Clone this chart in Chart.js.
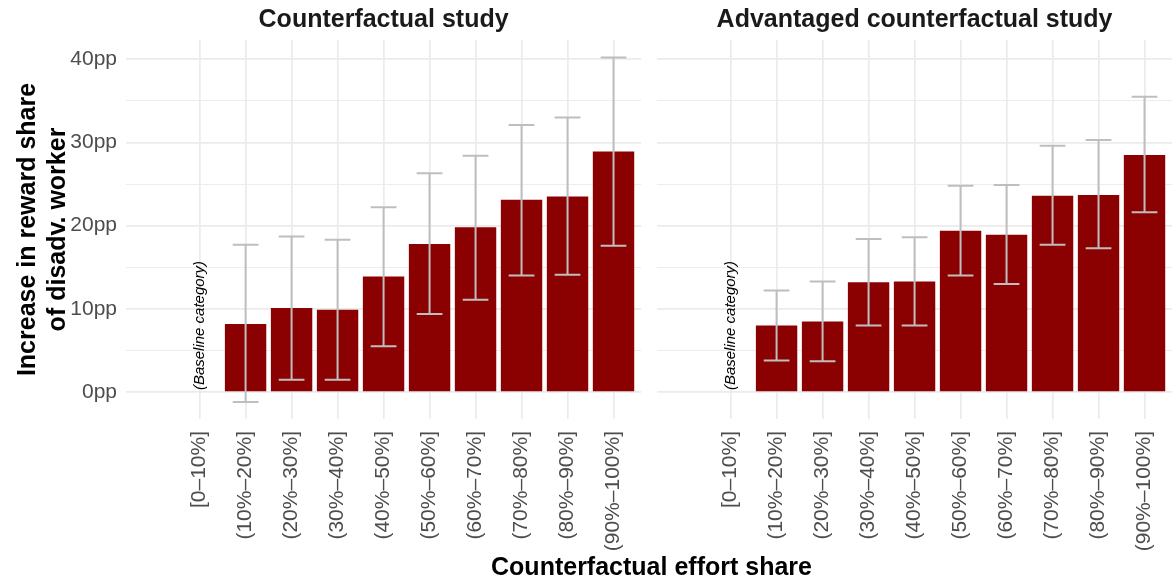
<!DOCTYPE html>
<html>
<head>
<meta charset="utf-8">
<script src="https://cdn.jsdelivr.net/npm/chart.js@4.4.1/dist/chart.umd.min.js"></script>
<style>
  html, body { margin: 0; padding: 0; background: #fff; overflow: hidden; width: 1172px; height: 581px; }
  #wrap { position: relative; width: 1172px; height: 581px; }
  canvas { position: absolute; top: 0; }
  #xtitle { position: absolute; left: 0; width: 1303px; top: 551px; text-align: center;
            font: bold 25px "Liberation Sans", Arial, sans-serif; line-height: 30px; color: #000; }
</style>
</head>
<body>
<div id="wrap">
  <canvas id="left" width="651" height="581" style="left:0px"></canvas>
  <canvas id="right" width="531" height="581" style="left:651px"></canvas>
  <div id="xtitle">Counterfactual effort share</div>
</div>
<script>
// Effort-share bins (x categories)
const categories = ['[0–10%]', '(10%–20%]', '(20%–30%]', '(30%–40%]', '(40%–50%]',
                    '(50%–60%]', '(60%–70%]', '(70%–80%]', '(80%–90%]', '(90%–100%]'];

// Counterfactual study: estimate and 95% interval (pp); first bin is the baseline
const cfEstimate = [null, 8.2, 10.1, 9.9, 13.9, 17.8, 19.8, 23.1, 23.5, 28.9];
const cfLower    = [null, -1.2, 1.5, 1.5, 5.5, 9.4, 11.1, 14.0, 14.1, 17.6];
const cfUpper    = [null, 17.7, 18.7, 18.3, 22.2, 26.3, 28.4, 32.1, 33.0, 40.2];

// Advantaged counterfactual study
const advEstimate = [null, 8.0, 8.5, 13.2, 13.3, 19.4, 18.9, 23.6, 23.7, 28.5];
const advLower    = [null, 3.8, 3.7, 8.0, 8.0, 14.0, 13.0, 17.7, 17.3, 21.6];
const advUpper    = [null, 12.2, 13.3, 18.4, 18.6, 24.8, 24.9, 29.6, 30.3, 35.5];

// y axis tick values (major every 10, minor every 5)
const yTicks = [0, 5, 10, 15, 20, 25, 30, 35, 40];
const yTickLabels = { 0: '0pp', 10: '10pp', 20: '20pp', 30: '30pp', 40: '40pp' };

const panelTitles = ['Counterfactual study', 'Advantaged counterfactual study'];
const baselineNote = '(Baseline category)';

const FONT = '"Liberation Sans", Arial, Helvetica, sans-serif';
const GRID = '#EBEBEB';
const BAR = '#8B0000';
const WHISKER = '#BEBEBE';

Chart.defaults.font.family = FONT;

// Draws the panel strip title, interval whiskers and the baseline note
const intervalPlugin = {
  id: 'intervals',
  afterDatasetsDraw(chart, args, opts) {
    const { ctx, chartArea, scales: { x, y } } = chart;
    ctx.save();
    ctx.fillStyle = '#1A1A1A';
    ctx.font = 'bold 25px ' + FONT;
    ctx.textAlign = 'center';
    ctx.textBaseline = 'middle';
    ctx.fillText(opts.title, (chartArea.left + chartArea.right) / 2, 20);

    ctx.strokeStyle = WHISKER;
    ctx.lineWidth = 2;
    opts.lower.forEach((lo, i) => {
      const hi = opts.upper[i];
      if (lo == null || hi == null) return;
      const px = x.getPixelForValue(i);
      const half = (x.getPixelForValue(1) - x.getPixelForValue(0)) * 0.28;
      const yl = y.getPixelForValue(lo), yh = y.getPixelForValue(hi);
      ctx.beginPath();
      ctx.moveTo(px, yl); ctx.lineTo(px, yh);
      ctx.moveTo(px - half, yl); ctx.lineTo(px + half, yl);
      ctx.moveTo(px - half, yh); ctx.lineTo(px + half, yh);
      ctx.stroke();
    });
    // baseline note, rotated, starting at zero on the first bin
    ctx.translate(x.getPixelForValue(0), y.getPixelForValue(0) - 2);
    ctx.rotate(-Math.PI / 2);
    ctx.fillStyle = '#000';
    ctx.font = 'italic 15px ' + FONT;
    ctx.textAlign = 'left';
    ctx.textBaseline = 'middle';
    ctx.fillText(baselineNote, 0, 0);
    ctx.restore();
  }
};

function makePanel(canvasId, title, estimate, lower, upper, showY) {
  const points = estimate.map((v, i) => ({ x: i, y: v }));
  return new Chart(document.getElementById(canvasId), {
    type: 'bar',
    data: {
      datasets: [{
        data: points,
        backgroundColor: BAR,
        borderWidth: 0,
        categoryPercentage: 1,
        barPercentage: 0.9
      }]
    },
    options: {
      responsive: false,
      animation: false,
      devicePixelRatio: 1,
      layout: { padding: { left: 0, right: 5, top: 40, bottom: 0 } },
      plugins: {
        legend: { display: false },
        tooltip: { enabled: false },
        title: { display: false },
        intervals: { lower, upper, title }
      },
      scales: {
        x: {
          type: 'linear',
          offset: false,
          min: -1.6,
          max: 9.6,
          grid: { color: GRID, lineWidth: 1.7, drawTicks: false, offset: false },
          border: { display: false },
          afterBuildTicks: (axis) => { axis.ticks = categories.map((_, i) => ({ value: i })); },
          afterFit: (axis) => { axis.height = 162; },
          ticks: {
            autoSkip: false,
            minRotation: 90,
            maxRotation: 90,
            padding: 12,
            color: '#4D4D4D',
            font: { size: 21, family: FONT },
            callback: (v) => categories[v]
          }
        },
        y: {
          min: -3.23,
          max: 42.31,
          grid: {
            color: GRID,
            drawTicks: false,
            lineWidth: (c) => (c.tick && c.tick.value % 10 === 0) ? 1.7 : 0.9
          },
          border: { display: false },
          afterBuildTicks: (axis) => { axis.ticks = yTicks.map(v => ({ value: v })); },
          afterFit: (axis) => { axis.width = showY ? 126 : 6; },
          ticks: {
            display: showY,
            padding: 9,
            color: '#4D4D4D',
            font: { size: 21, family: FONT },
            callback: (v) => yTickLabels[v] !== undefined ? yTickLabels[v] : ''
          },
          title: {
            display: showY,
            text: ['Increase in reward share', 'of disadv. worker'],
            color: '#000',
            font: { size: 25, weight: 'bold', family: FONT },
            padding: { top: 13, bottom: 0 }
          }
        }
      }
    },
    plugins: [intervalPlugin]
  });
}

makePanel('left', panelTitles[0], cfEstimate, cfLower, cfUpper, true);
makePanel('right', panelTitles[1], advEstimate, advLower, advUpper, false);
</script>
</body>
</html>
